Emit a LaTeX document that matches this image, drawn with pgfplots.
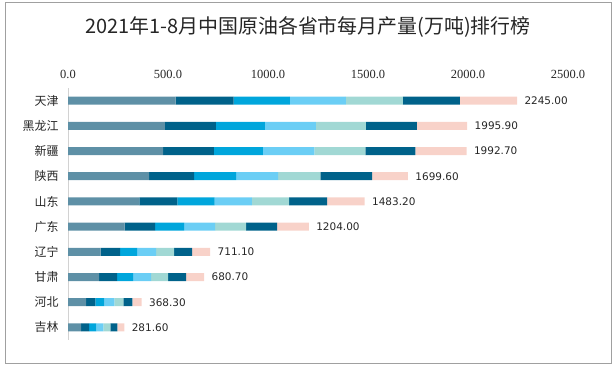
\documentclass[border=0pt]{standalone}
\usepackage{pgfplots}
\usepackage{pgfplotstable}
\pgfplotsset{compat=1.18}
\usepackage{fontspec}
\setmainfont{Liberation Serif}
\newfontfamily\cjk{Noto Sans CJK SC}
\newfontfamily\vfont{DejaVu Sans}
\definecolor{c1}{HTML}{5E90A6}
\definecolor{c2}{HTML}{00628A}
\definecolor{c3}{HTML}{00A6DC}
\definecolor{c4}{HTML}{6BCEF5}
\definecolor{c5}{HTML}{A1D8D4}
\definecolor{c6}{HTML}{00628A}
\definecolor{c7}{HTML}{F8D2C9}
\definecolor{frame}{HTML}{A0A0A0}
\definecolor{txt}{HTML}{262626}
\pgfplotstableread{
y s1 s2 s3 s4 s5 s6 s7 total
0 538 290 281 280 285 285 286 2245.00
1 483.9 255 246 255 250 254 252 1995.90
2 475 254 245 258 255 250 255.7 1992.70
3 405 225 210 210 212 258 179.6 1699.60
4 357 190 186 186 186 190 188.2 1483.20
5 283 152 145 155 155 155 159 1204.00
6 163 97 86 95 90 90 90.1 711.10
7 155 90 80 90 85 90 90.7 680.70
8 91 46 45 50 45 45 46.3 368.30
9 66 40 36 35 35 35 34.6 281.60
}\datatable
\pgfplotsset{
  common/.style={
    at={(68bp,27bp)}, anchor=south west, scale only axis,
    width=500bp, height=252bp,
    xmin=0, xmax=2500, ymin=-0.5, ymax=9.5, y dir=reverse, clip=false,
  }
}
\begin{document}
\begin{tikzpicture}
\useasboundingbox (0,0) rectangle (616bp,367bp);
\draw[frame, line width=1bp] (5bp,3bp) rectangle (611bp,364bp);
\node[font=\cjk\fontsize{20}{24}\selectfont, text=txt] at (308bp,340bp) {2021年1-8月中国原油各省市每月产量(万吨)排行榜};
\begin{axis}[
  common,
  xbar stacked, bar width=8bp,
  axis x line*=top, axis y line*=left,
  x axis line style={draw=none},
  y axis line style={draw=gray!35, line width=0.8bp},
  major tick length=0pt,
  ytick={0,...,9},
  yticklabels={天津,黑龙江,新疆,陕西,山东,广东,辽宁,甘肃,河北,吉林},
  yticklabel style={font=\cjk\fontsize{12}{14}\selectfont, text=txt, xshift=-6bp},
  xtick={0,500,...,2500},
  /pgf/number format/assume math mode=true,
  xticklabel style={font=\fontsize{12.5}{14}\selectfont, text=txt, yshift=6bp,
    /pgf/number format/.cd, fixed, fixed zerofill, precision=1, 1000 sep={}},
]
\addplot[fill=c1, draw=none] table[x=s1, y=y] {\datatable};
\addplot[fill=c2, draw=none] table[x=s2, y=y] {\datatable};
\addplot[fill=c3, draw=none] table[x=s3, y=y] {\datatable};
\addplot[fill=c4, draw=none] table[x=s4, y=y] {\datatable};
\addplot[fill=c5, draw=none] table[x=s5, y=y] {\datatable};
\addplot[fill=c6, draw=none] table[x=s6, y=y] {\datatable};
\addplot[fill=c7, draw=none] table[x=s7, y=y] {\datatable};
\end{axis}
\begin{axis}[common, hide axis]
\addplot[draw=none, mark=none, nodes near coords, point meta=explicit symbolic,
  every node near coord/.append style={anchor=west, xshift=4bp, font=\vfont\fontsize{10.5}{12}\selectfont, text=txt}]
  table[x=total, y=y, meta=total] {\datatable};
\end{axis}
\end{tikzpicture}
\end{document}
